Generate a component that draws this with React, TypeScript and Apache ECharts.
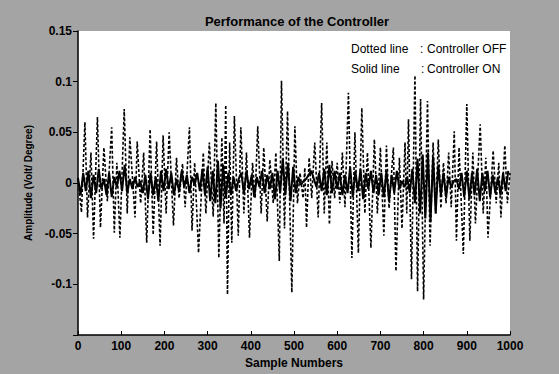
import React, { useEffect, useRef } from "react";
import * as echarts from "echarts";

const titleText = "Performance of the Controller";
const xName = "Sample Numbers";
const yName = "Amplitude (Volt/ Degree)";
const legendLeft = ["Dotted line", "Solid line"];
const legendRight = ["Controller OFF", "Controller ON"];

// Controller OFF (dotted): [sample, amplitude]
const dottedOff: [number, number][] = [
  [0, 0.005], [8, -0.029], [16, 0.06], [22, -0.034], [30, 0.03], [36, -0.055], [45, 0.065], [52, -0.044],
  [60, 0.035], [68, -0.018], [78, 0.055], [84, -0.049], [90, 0.02], [97, -0.054], [107, 0.073], [114, -0.03],
  [120, 0.045], [132, -0.034], [137, 0.041], [145, -0.02], [152, 0.03], [159, -0.059], [167, 0.053], [174, -0.051],
  [182, 0.041], [190, -0.062], [197, 0.047], [204, -0.03], [211, 0.05], [221, -0.042], [228, 0.025], [234, -0.015],
  [242, 0.019], [248, -0.024], [258, 0.055], [264, -0.047], [270, 0.02], [279, -0.069], [290, 0.03], [296, -0.03],
  [304, 0.04], [313, -0.033], [319, 0.079], [326, -0.074], [333, 0.045], [338, -0.04], [342, 0.077], [346, -0.11],
  [351, 0.04], [356, -0.059], [362, 0.066], [371, -0.052], [377, 0.055], [384, -0.03], [390, 0.03], [397, -0.054],
  [404, 0.02], [410, -0.015], [416, 0.056], [424, -0.03], [430, 0.035], [438, -0.038], [444, 0.023], [452, -0.02],
  [458, 0.03], [466, -0.077], [471, 0.101], [478, -0.045], [485, 0.071], [495, -0.108], [502, 0.056], [508, -0.02],
  [514, 0.01], [521, -0.015], [525, 0.015], [529, -0.044], [535, 0.025], [541, -0.015], [548, 0.04], [556, -0.034],
  [564, 0.079], [570, -0.03], [576, 0.04], [582, -0.041], [588, 0.022], [594, -0.015], [600, 0.02], [606, -0.02],
  [612, 0.03], [618, -0.024], [626, 0.089], [634, -0.074], [641, 0.05], [649, -0.069], [657, 0.074], [664, -0.03],
  [670, 0.03], [678, -0.064], [686, 0.043], [693, -0.03], [700, 0.035], [708, -0.052], [714, 0.037], [720, -0.025],
  [730, 0.035], [736, -0.087], [744, 0.025], [750, -0.045], [757, 0.04], [761, -0.03], [765, 0.063], [772, -0.095],
  [780, 0.106], [786, -0.107], [793, 0.083], [800, -0.115], [809, 0.081], [815, -0.062], [822, 0.04], [828, -0.03],
  [834, 0.043], [840, -0.025], [846, 0.02], [852, -0.02], [858, 0.03], [864, -0.024], [871, 0.051], [876, -0.057],
  [882, 0.035], [892, -0.07], [900, 0.078], [907, -0.057], [914, 0.03], [920, -0.04], [931, 0.058], [938, -0.03],
  [944, 0.025], [949, -0.054], [961, 0.032], [968, -0.02], [974, 0.02], [979, -0.034], [988, 0.037], [994, -0.02],
  [1000, 0.01],
];

// Controller ON (solid): one value every `solidStep` samples
const solidStep = 6;
const solidOn: number[] = [
  0.005, -0.012, 0.01, -0.008, 0.012, -0.015, 0.008, -0.01, 0.014, -0.006, 0.004, -0.012, 0.01, -0.014, 0.006, -0.004, 0.012,
  -0.008, 0.018, -0.01, 0.004, -0.006, 0.006, -0.004, 0.002, -0.01, 0.008, -0.016, 0.01, -0.012, 0.006, -0.018, 0.012, -0.008,
  0.014, -0.006, 0.01, -0.012, 0.004, -0.008, 0.012, -0.004, 0.008, -0.01, 0.006, -0.002, 0.01, -0.008, 0.014, -0.012, 0.016,
  -0.018, 0.012, -0.02, 0.022, -0.025, 0.018, -0.015, 0.01, -0.012, 0.006, -0.008, 0.004, 0.01, -0.01, 0.012, -0.006, 0.008,
  -0.014, 0.006, -0.004, 0.012, -0.01, 0.008, -0.006, 0.01, -0.016, 0.012, -0.01, 0.024, -0.012, 0.02, -0.018, 0.016, -0.01,
  0.006, -0.002, 0.002, 0.004, 0.008, 0.012, 0.004, -0.004, 0.01, -0.008, 0.014, -0.012, 0.018, -0.01, 0.012, -0.006, 0.01,
  -0.012, 0.008, -0.01, 0.016, -0.014, 0.012, -0.008, 0.014, -0.016, 0.01, -0.006, 0.012, -0.01, 0.008, -0.012, 0.01, -0.014,
  0.012, -0.018, 0.008, -0.01, 0.012, -0.006, 0.002, -0.004, 0.006, -0.01, 0.014, -0.02, 0.024, -0.03, 0.028, -0.035, 0.03,
  -0.038, 0.026, -0.03, 0.018, -0.012, 0.01, -0.014, 0.006, -0.004, 0.002, 0.004, -0.006, 0.01, -0.014, 0.012, -0.016, 0.01,
  -0.012, 0.014, -0.018, 0.01, -0.008, 0.012, -0.014, 0.008, -0.01, 0.006, -0.012, 0.01, -0.008, 0.012,
];

const xTicks = { min: 0, max: 1000, interval: 100 };
const yTicks = { min: -0.15, max: 0.15, interval: 0.05 };

export default function App() {
  const ref = useRef<HTMLDivElement>(null);
  useEffect(() => {
    if (!ref.current) return;
    const chart = echarts.init(ref.current, undefined, { renderer: "svg" });
    const font = "Arial, 'Liberation Sans', sans-serif";
    const solidData = solidOn.map((v, i) => [i * solidStep, v]);
    chart.setOption({
      animation: false,
      backgroundColor: "#a4a4a4",
      textStyle: { fontFamily: font },
      title: {
        text: titleText,
        left: 292,
        top: 10,
        textAlign: "center",
        textStyle: { fontSize: 13, fontWeight: "bold", color: "#000", fontFamily: font },
      },
      grid: {
        left: 78,
        right: 49,
        top: 31,
        bottom: 39,
        show: true,
        backgroundColor: "#ffffff",
        borderWidth: 0,
      },
      xAxis: {
        type: "value",
        min: xTicks.min,
        max: xTicks.max,
        interval: xTicks.interval,
        name: xName,
        nameLocation: "middle",
        nameGap: 20,
        nameTextStyle: { fontSize: 12, fontWeight: "bold", color: "#000", fontFamily: font },
        axisLine: { show: true, onZero: false, lineStyle: { color: "#000", width: 1.5 } },
        axisTick: { show: true, inside: true, length: 4, lineStyle: { color: "#000" } },
        axisLabel: {
          fontSize: 12,
          fontWeight: "bold",
          color: "#000",
          margin: 5,
          fontFamily: font,
          formatter: (v: number) => String(Math.round(v)),
        },
        splitLine: { show: false },
      },
      yAxis: {
        type: "value",
        min: yTicks.min,
        max: yTicks.max,
        interval: yTicks.interval,
        name: yName,
        nameLocation: "middle",
        nameGap: 40,
        nameTextStyle: { fontSize: 10, fontWeight: "bold", color: "#000", fontFamily: font },
        axisLine: { show: true, lineStyle: { color: "#000", width: 1.5 } },
        axisTick: { show: true, inside: false, length: 5, lineStyle: { color: "#000" } },
        axisLabel: {
          fontSize: 12,
          fontWeight: "bold",
          color: "#000",
          margin: 6,
          fontFamily: font,
          formatter: (v: number) => {
            const r = Math.round(v * 100) / 100;
            if (r <= -0.15) return "";
            return String(r);
          },
        },
        splitLine: { show: false },
      },
      graphic: [
        { type: "text", left: 351, top: 43, style: { text: legendLeft[0], font: `12px ${font}`, fill: "#000" } },
        { type: "text", left: 420, top: 43, style: { text: ":", font: `12px ${font}`, fill: "#000" } },
        { type: "text", left: 427, top: 43, style: { text: legendRight[0], font: `12px ${font}`, fill: "#000" } },
        { type: "text", left: 351, top: 63, style: { text: legendLeft[1], font: `12px ${font}`, fill: "#000" } },
        { type: "text", left: 421, top: 63, style: { text: ":", font: `12px ${font}`, fill: "#000" } },
        { type: "text", left: 427, top: 63, style: { text: legendRight[1], font: `12px ${font}`, fill: "#000" } },
      ],
      series: [
        {
          name: "Controller OFF",
          type: "line",
          data: dottedOff,
          showSymbol: false,
          symbol: "none",
          lineStyle: { color: "#000", width: 1.6, type: [3, 2] },
          z: 2,
        },
        {
          name: "Controller ON",
          type: "line",
          data: solidData,
          showSymbol: false,
          symbol: "none",
          lineStyle: { color: "#000", width: 2, type: "solid" },
          z: 3,
        },
      ],
    });
    return () => chart.dispose();
  }, []);
  return (
    <div
      ref={ref}
      style={{ position: "absolute", left: 0, top: 0, width: 559, height: 374 }}
    />
  );
}
